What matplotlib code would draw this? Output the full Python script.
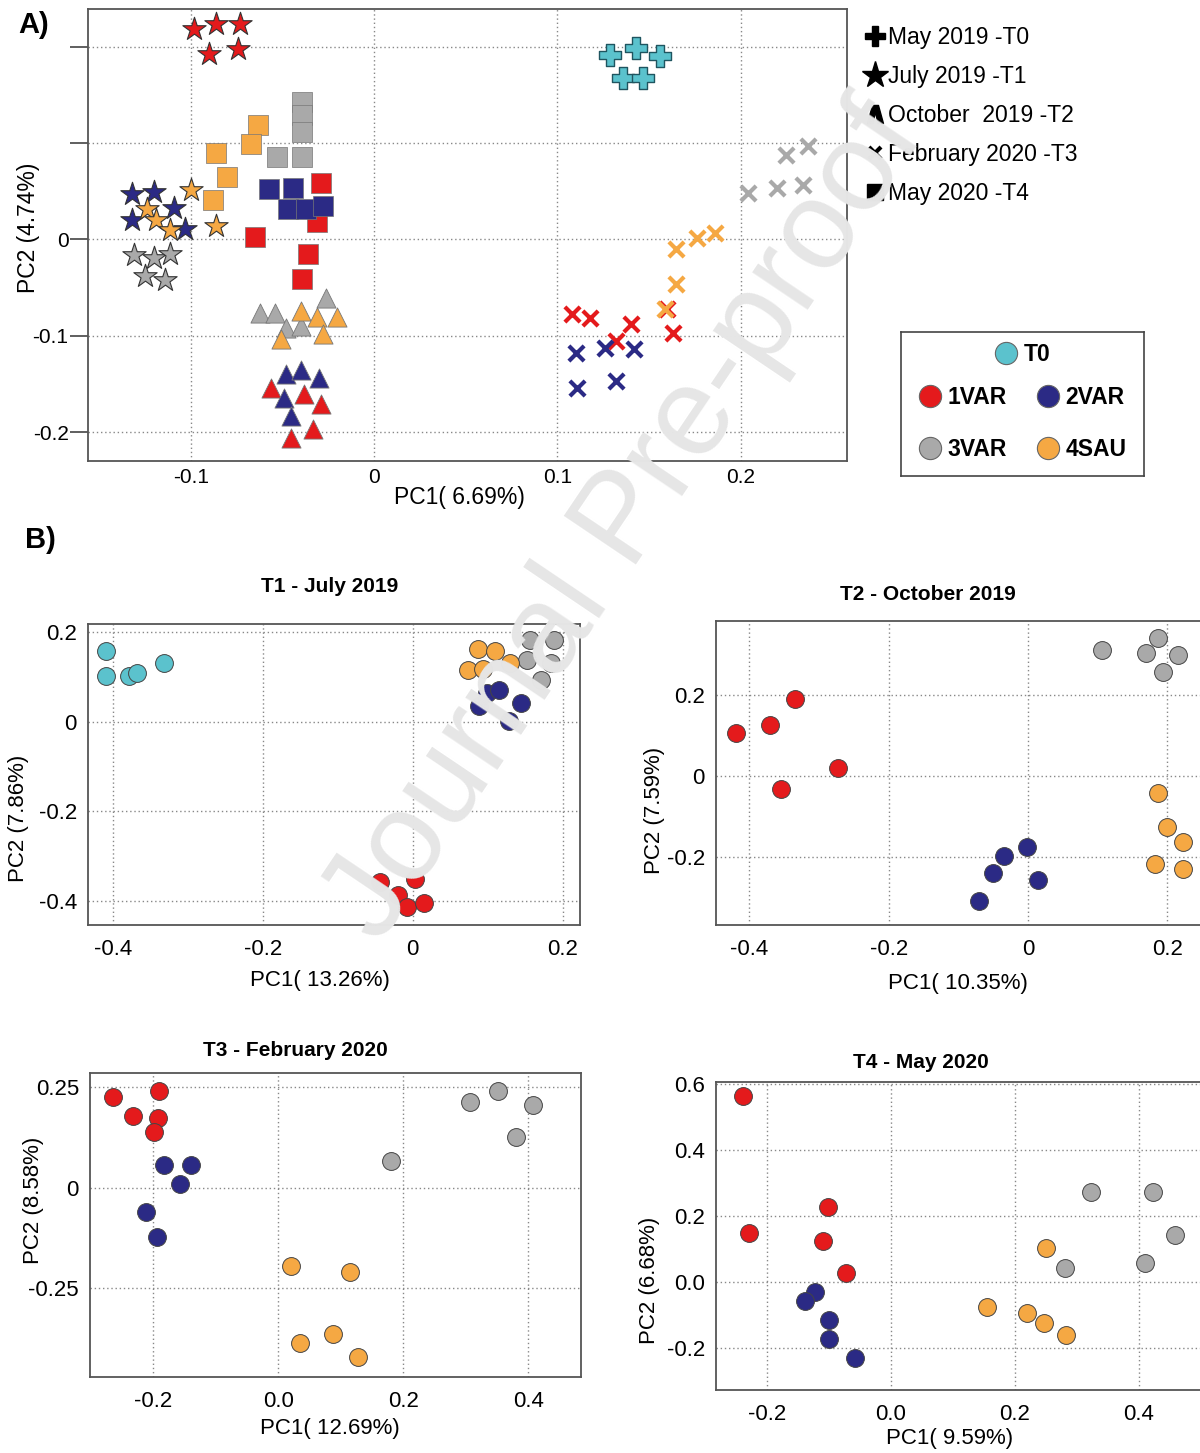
import matplotlib
matplotlib.use('Agg')
import matplotlib.pyplot as plt
from matplotlib.lines import Line2D

plt.rcParams['font.family'] = ['Liberation Sans', 'DejaVu Sans']

RED = '#e41a1c'
NAVY = '#2b2a85'
GREY = '#a9a9a9'
ORANGE = '#f5a843'
CYAN = '#5bc2cd'

groups = ['1VAR', '2VAR', '3VAR', '4SAU']
group_colors = [RED, NAVY, GREY, ORANGE]

# ---------------- Panel A: all sampling times on one PCA ----------------
a_t0_x = [0.129, 0.143, 0.156, 0.136, 0.147]
a_t0_y = [0.191, 0.199, 0.190, 0.167, 0.167]

# T1 - stars
a_t1_x = {'1VAR': [-0.098, -0.086, -0.073, -0.090, -0.074],
          '2VAR': [-0.132, -0.120, -0.109, -0.132, -0.103],
          '3VAR': [-0.131, -0.120, -0.111, -0.125, -0.114],
          '4SAU': [-0.100, -0.124, -0.119, -0.111, -0.086]}
a_t1_y = {'1VAR': [0.218, 0.223, 0.223, 0.192, 0.198],
          '2VAR': [0.047, 0.049, 0.032, 0.020, 0.011],
          '3VAR': [-0.016, -0.019, -0.015, -0.038, -0.042],
          '4SAU': [0.051, 0.031, 0.020, 0.010, 0.014]}

# T2 - triangles
a_t2_x = {'1VAR': [-0.056, -0.038, -0.029, -0.045, -0.033],
          '2VAR': [-0.048, -0.040, -0.030, -0.049, -0.045],
          '3VAR': [-0.062, -0.054, -0.048, -0.040, -0.026],
          '4SAU': [-0.040, -0.031, -0.020, -0.028, -0.051]}
a_t2_y = {'1VAR': [-0.154, -0.160, -0.171, -0.206, -0.197],
          '2VAR': [-0.140, -0.136, -0.144, -0.165, -0.183],
          '3VAR': [-0.076, -0.076, -0.092, -0.090, -0.061],
          '4SAU': [-0.074, -0.081, -0.081, -0.098, -0.103]}

# T3 - crosses
a_t3_x = {'1VAR': [0.108, 0.118, 0.140, 0.132, 0.160, 0.163],
          '2VAR': [0.110, 0.126, 0.142, 0.111, 0.132],
          '3VAR': [0.204, 0.220, 0.234, 0.225, 0.237],
          '4SAU': [0.159, 0.165, 0.165, 0.176, 0.186]}
a_t3_y = {'1VAR': [-0.077, -0.082, -0.088, -0.105, -0.072, -0.097],
          '2VAR': [-0.118, -0.113, -0.114, -0.154, -0.147],
          '3VAR': [0.048, 0.053, 0.056, 0.088, 0.097],
          '4SAU': [-0.072, -0.046, -0.010, 0.001, 0.007]}

# T4 - squares
a_t4_x = {'1VAR': [-0.029, -0.031, -0.065, -0.036, -0.039],
          '2VAR': [-0.057, -0.044, -0.047, -0.037, -0.028],
          '3VAR': [-0.039, -0.039, -0.039, -0.053, -0.039],
          '4SAU': [-0.063, -0.067, -0.086, -0.080, -0.088]}
a_t4_y = {'1VAR': [0.058, 0.018, 0.002, -0.015, -0.041],
          '2VAR': [0.052, 0.053, 0.031, 0.031, 0.035],
          '3VAR': [0.142, 0.129, 0.111, 0.085, 0.085],
          '4SAU': [0.119, 0.099, 0.090, 0.065, 0.041]}

a_xticks = [-0.1, 0, 0.1, 0.2]
a_xticklabels = ['-0.1', '0', '0.1', '0.2']
a_yticks = [-0.2, -0.1, 0, 0.1, 0.2]
a_yticklabels = ['-0.2', '-0.1', '0', '', '']

# ---------------- Panel B: one PCA per sampling time ----------------
b_t1_t0_x = [-0.409, -0.409, -0.378, -0.367, -0.331]
b_t1_t0_y = [0.157, 0.102, 0.101, 0.108, 0.132]
b_t1_x = {'1VAR': [-0.043, 0.003, -0.020, -0.008, 0.015],
          '2VAR': [0.099, 0.115, 0.145, 0.089, 0.128],
          '3VAR': [0.156, 0.189, 0.153, 0.184, 0.171],
          '4SAU': [0.087, 0.110, 0.130, 0.074, 0.094]}
b_t1_y = {'1VAR': [-0.359, -0.351, -0.388, -0.413, -0.405],
          '2VAR': [0.064, 0.071, 0.042, 0.035, 0.001],
          '3VAR': [0.183, 0.182, 0.137, 0.130, 0.093],
          '4SAU': [0.163, 0.158, 0.132, 0.115, 0.117]}

b_t2_x = {'1VAR': [-0.420, -0.371, -0.334, -0.273, -0.355],
          '2VAR': [-0.001, -0.035, -0.050, 0.015, -0.071],
          '3VAR': [0.106, 0.186, 0.170, 0.216, 0.194],
          '4SAU': [0.187, 0.199, 0.223, 0.183, 0.223]}
b_t2_y = {'1VAR': [0.106, 0.126, 0.190, 0.021, -0.031],
          '2VAR': [-0.177, -0.198, -0.241, -0.257, -0.309],
          '3VAR': [0.312, 0.342, 0.305, 0.300, 0.258],
          '4SAU': [-0.041, -0.126, -0.163, -0.219, -0.231]}

b_t3_x = {'1VAR': [-0.265, -0.191, -0.232, -0.192, -0.198],
          '2VAR': [-0.183, -0.140, -0.157, -0.211, -0.194],
          '3VAR': [0.306, 0.352, 0.408, 0.380, 0.181],
          '4SAU': [0.021, 0.115, 0.087, 0.035, 0.127]}
b_t3_y = {'1VAR': [0.225, 0.242, 0.178, 0.173, 0.140],
          '2VAR': [0.057, 0.057, 0.010, -0.059, -0.123],
          '3VAR': [0.215, 0.242, 0.206, 0.126, 0.068],
          '4SAU': [-0.195, -0.209, -0.364, -0.387, -0.422]}

b_t4_x = {'1VAR': [-0.239, -0.228, -0.101, -0.110, -0.072],
          '2VAR': [-0.123, -0.138, -0.099, -0.099, -0.058],
          '3VAR': [0.322, 0.423, 0.458, 0.410, 0.280],
          '4SAU': [0.250, 0.155, 0.220, 0.247, 0.282]}
b_t4_y = {'1VAR': [0.562, 0.150, 0.228, 0.124, 0.028],
          '2VAR': [-0.030, -0.056, -0.113, -0.172, -0.228],
          '3VAR': [0.272, 0.272, 0.144, 0.059, 0.043],
          '4SAU': [0.104, -0.076, -0.094, -0.124, -0.159]}

b_t1_xticks, b_t1_xlabels = [-0.4, -0.2, 0, 0.2], ['-0.4', '-0.2', '0', '0.2']
b_t1_yticks, b_t1_ylabels = [-0.4, -0.2, 0, 0.2], ['-0.4', '-0.2', '0', '0.2']
b_t2_xticks, b_t2_xlabels = [-0.4, -0.2, 0, 0.2], ['-0.4', '-0.2', '0', '0.2']
b_t2_yticks, b_t2_ylabels = [-0.2, 0, 0.2], ['-0.2', '0', '0.2']
b_t3_xticks, b_t3_xlabels = [-0.2, 0, 0.2, 0.4], ['-0.2', '0.0', '0.2', '0.4']
b_t3_yticks, b_t3_ylabels = [-0.25, 0, 0.25], ['-0.25', '0', '0.25']
b_t4_xticks, b_t4_xlabels = [-0.2, 0, 0.2, 0.4], ['-0.2', '0.0', '0.2', '0.4']
b_t4_yticks, b_t4_ylabels = [-0.2, 0, 0.2, 0.4, 0.6], ['-0.2', '0.0', '0.2', '0.4', '0.6']

W, H = 1200, 1453
fig = plt.figure(figsize=(12, 14.53), dpi=100)


def fig_rect(left, top, right, bottom):
    # pixel box -> figure fraction
    return [left / W, 1 - bottom / H, (right - left) / W, (bottom - top) / H]


def style_axes(ax):
    for sp in ax.spines.values():
        sp.set_color('#555555')
        sp.set_linewidth(1.3)
    ax.grid(True, ls=(0, (1, 2)), color='#888888', lw=1.0)
    ax.set_axisbelow(True)


# ---------------- Panel A ----------------
axA = fig.add_axes(fig_rect(88, 9, 847, 461))
style_axes(axA)
axA.scatter(a_t0_x, a_t0_y, marker='P', s=230, c=CYAN, edgecolors='#1f5560', linewidths=1.0, zorder=3)
for g, col in zip(groups, group_colors):
    axA.scatter(a_t1_x[g], a_t1_y[g], marker='*', s=310, c=col, edgecolors='#333333', linewidths=0.8, zorder=3)
    axA.scatter(a_t2_x[g], a_t2_y[g], marker='^', s=190, c=col, edgecolors='#777777', linewidths=0.6, zorder=3)
    axA.scatter(a_t4_x[g], a_t4_y[g], marker='s', s=200, c=col, edgecolors='#777777', linewidths=0.5, zorder=3)
    axA.scatter(a_t3_x[g], a_t3_y[g], marker='x', s=120, c=col, linewidths=3.0, zorder=3)
axA.set_xlim(-0.156, 0.258)
axA.set_ylim(-0.230, 0.239)
axA.set_xticks(a_xticks)
axA.set_xticklabels(a_xticklabels)
axA.set_yticks(a_yticks)
axA.set_yticklabels(a_yticklabels)
axA.tick_params(axis='x', length=0, pad=5, labelsize=15)
axA.tick_params(axis='y', length=13, width=1.2, color='#444444', pad=1, labelsize=15)
axA.set_xlabel('PC1( 6.69%)', fontsize=16.5)
axA.set_ylabel('PC2 (4.74%)', fontsize=16.5)
axA.xaxis.set_label_coords(0.49, -0.080)
axA.yaxis.set_label_coords(-0.079, 0.515)
axA.xaxis.label.set_va('center')
axA.yaxis.label.set_va('center')

time_handles = [
    Line2D([], [], ls='', marker='P', color='k', markersize=15, label='May 2019 -T0'),
    Line2D([], [], ls='', marker='*', color='k', markersize=20, label='July 2019 -T1'),
    Line2D([], [], ls='', marker='$\\mathbf{\\wedge}$', color='k', markersize=13, label='October  2019 -T2'),
    Line2D([], [], ls='', marker='x', color='k', markersize=9, markeredgewidth=3, label='February 2020 -T3'),
    Line2D([], [], ls='', marker='s', color='k', markersize=11, label='May 2020 -T4'),
]
fig.legend(handles=time_handles, loc='upper left', bbox_to_anchor=(866 / W, 1 - 26 / H),
           frameon=False, fontsize=16.5, handlelength=0.8, handletextpad=0.15,
           labelspacing=0.70, borderaxespad=0, borderpad=0)

axL = fig.add_axes(fig_rect(901, 332, 1144, 476))
axL.set_xticks([])
axL.set_yticks([])
for sp in axL.spines.values():
    sp.set_color('#444444')
    sp.set_linewidth(1.2)
leg_prop = {'weight': 'bold', 'size': 16.5}


def dot(col, lab):
    return Line2D([], [], ls='', marker='o', markersize=16, markerfacecolor=col,
                  markeredgecolor='#666666', markeredgewidth=0.8, label=lab)


leg0 = axL.legend(handles=[dot(CYAN, 'T0')], loc='upper center', bbox_to_anchor=(0.5, 1.0),
                  frameon=False, prop=leg_prop, handlelength=1.0, handletextpad=0.25, borderpad=0.0)
axL.add_artist(leg0)
axL.legend(handles=[dot(RED, '1VAR'), dot(GREY, '3VAR'), dot(NAVY, '2VAR'), dot(ORANGE, '4SAU')],
           ncol=2, loc='lower center', bbox_to_anchor=(0.5, 0.0), frameon=False, prop=leg_prop,
           handlelength=1.0, handletextpad=0.25, columnspacing=1.3, labelspacing=1.27, borderpad=0.17)


# ---------------- Panel B ----------------
def pca_panel(rect, xs, ys, xlim, ylim, xticks, xlabels, yticks, ylabels,
              xlabel, ylabel, xlab_pos, ylab_pos, extra=None):
    ax = fig.add_axes(rect)
    style_axes(ax)
    if extra is not None:
        ax.scatter(extra[0], extra[1], s=165, c=CYAN, edgecolors='#444444', linewidths=0.7, zorder=3)
    for g, col in zip(groups, group_colors):
        ax.scatter(xs[g], ys[g], s=165, c=col, edgecolors='#444444', linewidths=0.7, zorder=3)
    ax.set_xlim(*xlim)
    ax.set_ylim(*ylim)
    ax.set_xticks(xticks)
    ax.set_xticklabels(xlabels)
    ax.set_yticks(yticks)
    ax.set_yticklabels(ylabels)
    ax.tick_params(length=0, labelsize=16)
    ax.tick_params(axis='x', pad=10)
    ax.tick_params(axis='y', pad=8)
    ax.set_xlabel(xlabel, fontsize=16)
    ax.set_ylabel(ylabel, fontsize=16)
    ax.xaxis.set_label_coords(*xlab_pos)
    ax.yaxis.set_label_coords(*ylab_pos)
    ax.xaxis.label.set_va('center')
    ax.yaxis.label.set_va('center')
    return ax


pca_panel(fig_rect(88, 624, 580, 925), b_t1_x, b_t1_y, (-0.433, 0.223), (-0.454, 0.218),
          b_t1_xticks, b_t1_xlabels, b_t1_yticks, b_t1_ylabels,
          'PC1( 13.26%)', 'PC2 (7.86%)', (0.472, -0.183), (-0.142, 0.355),
          extra=(b_t1_t0_x, b_t1_t0_y))
pca_panel(fig_rect(716, 621, 1223, 925), b_t2_x, b_t2_y, (-0.448, 0.28), (-0.369, 0.384),
          b_t2_xticks, b_t2_xlabels, b_t2_yticks, b_t2_ylabels,
          'PC1( 10.35%)', 'PC2 (7.59%)', (0.478, -0.191), (-0.121, 0.378))
pca_panel(fig_rect(90, 1073, 581, 1377), b_t3_x, b_t3_y, (-0.301, 0.484), (-0.471, 0.286),
          b_t3_xticks, b_t3_xlabels, b_t3_yticks, b_t3_ylabels,
          'PC1( 12.69%)', 'PC2 (8.58%)', (0.489, -0.168), (-0.116, 0.582))
pca_panel(fig_rect(716, 1082, 1232, 1390), b_t4_x, b_t4_y, (-0.282, 0.55), (-0.326, 0.605),
          b_t4_xticks, b_t4_xlabels, b_t4_yticks, b_t4_ylabels,
          'PC1( 9.59%)', 'PC2 (6.68%)', (0.453, -0.156), (-0.128, 0.357))

titles = ['T1 - July 2019', 'T2 - October 2019', 'T3 - February 2020', 'T4 - May 2020']
title_xy = [(330, 586), (928, 594), (295, 1050), (921, 1062)]
for t, (px, py) in zip(titles, title_xy):
    fig.text(px / W, 1 - py / H, t, ha='center', va='center', fontsize=15, fontweight='bold')

fig.text(18 / W, 1 - 25 / H, 'A)', ha='left', va='center', fontsize=21, fontweight='bold')
fig.text(25 / W, 1 - 540 / H, 'B)', ha='left', va='center', fontsize=21, fontweight='bold')

# watermark
fig.text(625 / W, 1 - 522 / H, 'Journal Pre-proof', rotation=56, ha='center', va='center',
         fontsize=91, color='#e6e6e6', zorder=10, rotation_mode='anchor')

fig.savefig('out.png', dpi=100, facecolor='white')
